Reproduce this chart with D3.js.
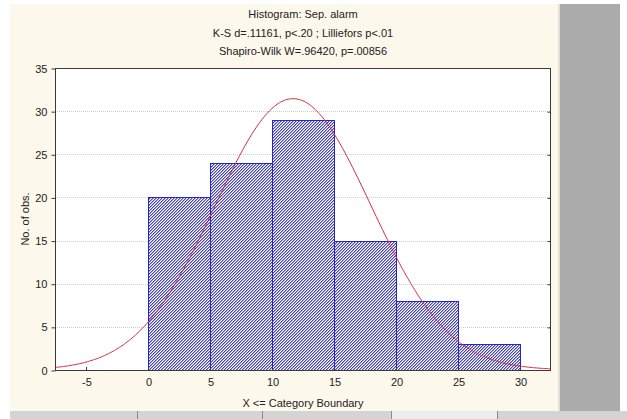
<!DOCTYPE html>
<html>
<head>
<meta charset="utf-8">
<script src="https://cdn.jsdelivr.net/npm/d3@7/dist/d3.min.js"></script>
<style>
  html, body { margin: 0; padding: 0; background: #ffffff; }
  svg { display: block; font-family: "Liberation Sans", Arial, sans-serif; }
</style>
</head>
<body>
<svg id="chart" width="627" height="419"></svg>
<script>
// Histogram bins (upper category boundaries) and observed counts
const binStarts = [0, 5, 10, 15, 20, 25];
const binWidth = 5;
const counts = [20, 24, 29, 15, 8, 3];

// Fitted normal parameters for the expected-frequency curve
const fitMean = 11.7;
const fitSd = 6.28;

// Axis ticks
const xTicks = [-5, 0, 5, 10, 15, 20, 25, 30];
const yTicks = [0, 5, 10, 15, 20, 25, 30, 35];

const titleLines = [
  "Histogram: Sep. alarm",
  "K-S d=.11161, p<.20 ; Lilliefors p<.01",
  "Shapiro-Wilk W=.96420, p=.00856"
];

const svg = d3.select("#chart");

// Window background: cream chart pane, gray side panel, tab strip
svg.append("rect").attr("x", 10).attr("y", 4).attr("width", 548).attr("height", 407).attr("fill", "#fdf8ec");
svg.append("rect").attr("x", 558).attr("y", 4).attr("width", 2).attr("height", 407).attr("fill", "#e4e0d8");
svg.append("rect").attr("x", 560).attr("y", 4).attr("width", 60).attr("height", 407).attr("fill", "#ababab");
svg.append("rect").attr("x", 10).attr("y", 411).attr("width", 617).attr("height", 8).attr("fill", "#d4d4d4");
svg.append("rect").attr("x", 391).attr("y", 411).attr("width", 106).attr("height", 8).attr("fill", "#ececec");
[137, 262, 391, 497].forEach(sx => {
  svg.append("line").attr("x1", sx + 0.5).attr("x2", sx + 0.5).attr("y1", 411).attr("y2", 419)
    .attr("stroke", "#8a8a8a");
});

const plot = { left: 55, right: 551, top: 68, bottom: 370 };

const x = d3.scaleLinear().domain([-7.5, 32.5]).range([plot.left, plot.right]);
const y = d3.scaleLinear().domain([0, 35]).range([plot.bottom, plot.top]);

// Fine pixel hatch ("/" direction) for the bars
const defs = svg.append("defs");
const pat = defs.append("pattern")
  .attr("id", "hatch").attr("patternUnits", "userSpaceOnUse")
  .attr("width", 3).attr("height", 3);
pat.append("rect").attr("width", 3).attr("height", 3).attr("fill", "#ffffff");
[[2, 0], [1, 1], [0, 2]].forEach(([px, py]) => {
  pat.append("rect").attr("x", px).attr("y", py).attr("width", 1).attr("height", 1).attr("fill", "#4444b4");
});
[[0, 0], [2, 1], [1, 2]].forEach(([px, py]) => {
  pat.append("rect").attr("x", px).attr("y", py).attr("width", 1).attr("height", 1).attr("fill", "#a4a4d8");
});

// Plot area
svg.append("rect")
  .attr("x", plot.left).attr("y", plot.top)
  .attr("width", plot.right - plot.left).attr("height", plot.bottom - plot.top)
  .attr("fill", "#ffffff");

// Horizontal dotted grid
svg.append("g").selectAll("line")
  .data(yTicks.filter(t => t > 0 && t < 35))
  .join("line")
  .attr("x1", plot.left).attr("x2", plot.right)
  .attr("y1", d => Math.round(y(d)) + 0.5).attr("y2", d => Math.round(y(d)) + 0.5)
  .attr("stroke", "#d0d0d0").attr("stroke-dasharray", "1,1");

// Bars
svg.append("g").selectAll("rect")
  .data(counts.map((c, i) => ({ start: binStarts[i], count: c })))
  .join("rect")
  .attr("x", d => Math.round(x(d.start)) + 0.5)
  .attr("y", d => Math.round(y(d.count)) + 0.5)
  .attr("width", d => Math.round(x(d.start + binWidth)) - Math.round(x(d.start)))
  .attr("height", d => Math.round(y(0)) - Math.round(y(d.count)))
  .attr("fill", "url(#hatch)")
  .attr("stroke", "#2424c8").attr("stroke-width", 1);

// Expected normal curve
const total = d3.sum(counts);
const normal = v => total * binWidth / (fitSd * Math.sqrt(2 * Math.PI)) *
  Math.exp(-0.5 * Math.pow((v - fitMean) / fitSd, 2));
const curveXs = d3.range(0, 401).map(i => -7.5 + i * 0.1);
svg.append("path")
  .datum(curveXs)
  .attr("d", d3.line().x(v => x(v)).y(v => y(normal(v))))
  .attr("fill", "none").attr("stroke", "#d42a3c").attr("stroke-width", 1);

// Frame
svg.append("rect")
  .attr("x", plot.left + 0.5).attr("y", plot.top + 0.5)
  .attr("width", plot.right - plot.left - 1).attr("height", plot.bottom - plot.top)
  .attr("fill", "none").attr("stroke", "#3a3a3a");

const fmt = d => String(d);

// Axes
const yAxis = d3.axisLeft(y).tickValues(yTicks).tickSize(4).tickPadding(4).tickFormat(fmt);
const gy = svg.append("g").attr("transform", `translate(${plot.left + 0.5},0.5)`).call(yAxis);
gy.select(".domain").remove();
gy.selectAll("line").attr("stroke", "#3a3a3a");
gy.selectAll("text").attr("font-size", 11).attr("fill", "#222")
  .attr("font-family", "'Liberation Sans', Arial, sans-serif");

const yAxisR = d3.axisLeft(y).tickValues(yTicks.filter(t => t > 0 && t < 35)).tickSize(3).tickFormat("");
const gyr = svg.append("g").attr("transform", `translate(${plot.right - 0.5},0.5)`).call(yAxisR);
gyr.select(".domain").remove();
gyr.selectAll("line").attr("stroke", "#3a3a3a");

const xAxis = d3.axisBottom(x).tickValues(xTicks).tickSize(0).tickPadding(8).tickFormat(fmt);
const gx = svg.append("g").attr("transform", `translate(0.5,${plot.bottom + 0.5})`).call(xAxis);
gx.select(".domain").remove();
gx.selectAll("text").attr("font-size", 11).attr("fill", "#222")
  .attr("font-family", "'Liberation Sans', Arial, sans-serif");
svg.append("g").selectAll("line").data(xTicks).join("line")
  .attr("x1", d => Math.round(x(d)) + 0.5).attr("x2", d => Math.round(x(d)) + 0.5)
  .attr("y1", plot.bottom - 3).attr("y2", plot.bottom)
  .attr("stroke", "#3a3a3a");

// Titles
svg.append("g").selectAll("text").data(titleLines).join("text")
  .attr("x", (plot.left + plot.right) / 2)
  .attr("y", (d, i) => 18 + i * 18.5)
  .attr("text-anchor", "middle")
  .attr("font-size", 11).attr("fill", "#222")
  .text(d => d);

svg.append("text")
  .attr("x", (plot.left + plot.right) / 2).attr("y", 407)
  .attr("text-anchor", "middle").attr("font-size", 11).attr("fill", "#222")
  .text("X <= Category Boundary");

svg.append("text")
  .attr("transform", `translate(29,${(plot.top + plot.bottom) / 2}) rotate(-90)`)
  .attr("text-anchor", "middle").attr("font-size", 11).attr("fill", "#222")
  .text("No. of obs.");
</script>
</body>
</html>
